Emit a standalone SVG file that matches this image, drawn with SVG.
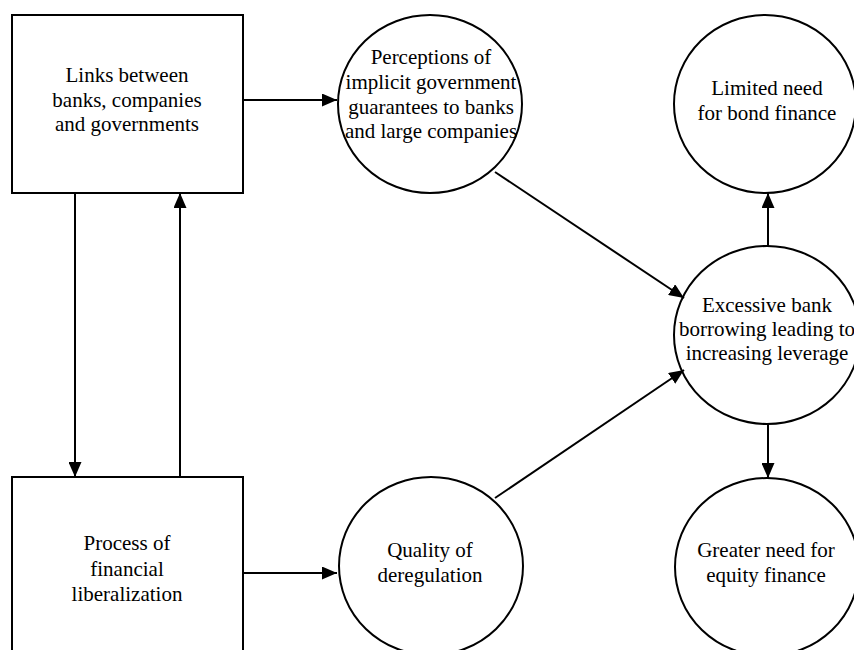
<svg xmlns="http://www.w3.org/2000/svg" width="854" height="650" viewBox="0 0 854 650">
<style>
.box{fill:#fff;stroke:#000;stroke-width:2}
.node{fill:#fff;stroke:#000;stroke-width:2}
.t{font-family:"Liberation Serif","Times New Roman",serif;font-size:21px;fill:#000;text-anchor:middle}
.edge{stroke:#000;stroke-width:2;fill:none;marker-end:url(#arr)}
</style>
<defs>
<marker id="arr" markerUnits="userSpaceOnUse" markerWidth="15" markerHeight="13" refX="15" refY="6.5" orient="auto">
<path d="M0,0 L15,6.5 L0,13 z" fill="#000"/>
</marker>
</defs>
<rect width="854" height="650" fill="#fff"/>
<g id="links">
<rect class="box" x="12" y="15" width="231" height="178"/>
<text class="t" x="127" y="82">Links between</text>
<text class="t" x="127" y="107">banks, companies</text>
<text class="t" x="127" y="131">and governments</text>
</g>
<g id="process">
<rect class="box" x="12" y="477" width="231" height="190"/>
<text class="t" x="127" y="550">Process of</text>
<text class="t" x="127" y="576">financial</text>
<text class="t" x="127" y="601">liberalization</text>
</g>
<g id="perceptions">
<ellipse class="node" cx="430" cy="104" rx="92" ry="89"/>
<text class="t" x="431" y="64">Perceptions of</text>
<text class="t" x="431" y="89">implicit government</text>
<text class="t" x="431" y="114">guarantees to banks</text>
<text class="t" x="431" y="138">and large companies</text>
</g>
<g id="quality">
<ellipse class="node" cx="431" cy="566" rx="92" ry="89"/>
<text class="t" x="430" y="557">Quality of</text>
<text class="t" x="430" y="582">deregulation</text>
</g>
<g id="limited">
<ellipse class="node" cx="765" cy="104" rx="91" ry="89"/>
<text class="t" x="767" y="95">Limited need</text>
<text class="t" x="767" y="120">for bond finance</text>
</g>
<g id="excessive">
<ellipse class="node" cx="767" cy="335" rx="93" ry="89"/>
<text class="t" x="767" y="312">Excessive bank</text>
<text class="t" x="767" y="336">borrowing leading to</text>
<text class="t" x="767" y="360">increasing leverage</text>
</g>
<g id="greater">
<ellipse class="node" cx="767" cy="567" rx="92" ry="89"/>
<text class="t" x="766" y="557">Greater need for</text>
<text class="t" x="766" y="582">equity finance</text>
</g>
<g id="connectors">
<line class="edge" x1="243" y1="100" x2="337" y2="100"/>
<line class="edge" x1="243" y1="573" x2="337" y2="573"/>
<line class="edge" x1="75" y1="193" x2="75" y2="477"/>
<line class="edge" x1="180" y1="477" x2="180" y2="193"/>
<line class="edge" x1="495" y1="172" x2="684" y2="298"/>
<line class="edge" x1="495" y1="498" x2="684" y2="370"/>
<line class="edge" x1="768" y1="246" x2="768" y2="193"/>
<line class="edge" x1="768" y1="424" x2="768" y2="478"/>
</g>
</svg>
